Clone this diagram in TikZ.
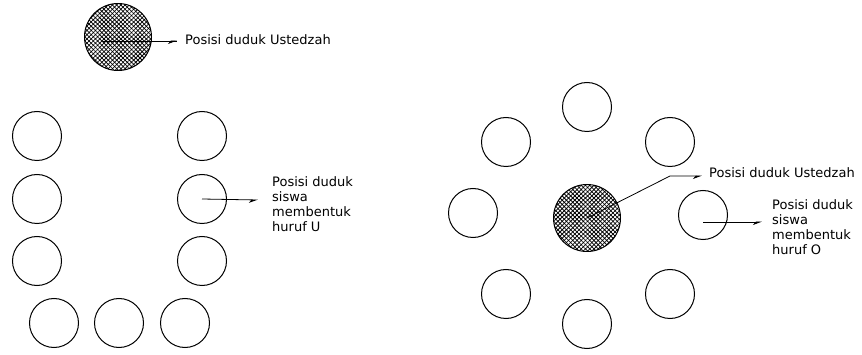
\documentclass[tikz,border=0pt]{standalone}
\usepackage{fontspec}
\setmainfont{DejaVu Sans}
\usetikzlibrary{patterns.meta,arrows.meta,calc}
\tikzset{
  seat/.style={circle,draw,line width=1pt,minimum size=49pt,inner sep=0pt},
  teacher/.style={circle,draw,line width=1pt,minimum size=67pt,inner sep=0pt,
    preaction={pattern={Lines[angle=45,distance=3pt,line width=0.75pt]}},
    postaction={pattern={Lines[angle=-45,distance=3pt,line width=0.75pt]}}},
  pointer/.style={line width=0.8pt,-{Stealth[harpoon,swap,length=8pt,width=6pt]}},
  lbl/.style={font=\fontsize{13pt}{15pt}\selectfont,align=left,inner sep=0pt}
}
\begin{document}
\begin{tikzpicture}[x=1pt,y=-1pt]
\useasboundingbox (0,0) rectangle (862,355);
% U layout
\node[teacher] (t1) at (118,37) {};
\coordinate (t1e) at (177,41);
\node[lbl,anchor=base west] (t1l) at (185,45) {Posisi duduk Ustedzah};
\draw[line width=0.8pt] ($(t1.center)+(-15,4)$) -- (t1e);
\draw[pointer] ($(t1e)+(-8,0)$) -- (t1e);
\node[seat] (u1) at (37,136) {};
\node[seat] (u2) at (37,199) {};
\node[seat] (u3) at (37,261) {};
\node[seat] (u4) at (202,136) {};
\node[seat] (u5) at (202,199) {};
\node[seat] (u6) at (202,261) {};
\node[seat] (u7) at (54,323) {};
\node[seat] (u8) at (119,323) {};
\node[seat] (u9) at (185,323) {};
\coordinate (u5e) at (258,200);
\draw[pointer] (u5.center) -- (u5e);
\node[lbl,anchor=north west] (ul) at (272,176) {Posisi duduk\\siswa\\membentuk\\huruf U};
% O layout
\node[seat] (o1) at (587,107) {};
\node[seat] (o2) at (506,142) {};
\node[seat] (o3) at (670,142) {};
\node[seat] (o4) at (473,213) {};
\node[seat] (o5) at (703,215) {};
\node[seat] (o6) at (506,294) {};
\node[seat] (o7) at (670,294) {};
\node[seat] (o8) at (587,324) {};
\node[teacher] (t2) at (587,218) {};
\coordinate (t2b) at (670,176);
\coordinate (t2e) at (702,176);
\draw[pointer] (t2.center) -- (t2b) -- (t2e);
\node[lbl,anchor=base west] (t2l) at (709,178) {Posisi duduk Ustedzah};
\coordinate (o5e) at (762,222);
\draw[pointer] ($(o5.center)+(0,7)$) -- (o5e);
\node[lbl,anchor=north west] (ol) at (772,199) {Posisi duduk\\siswa\\membentuk\\huruf O};
\end{tikzpicture}
\end{document}
